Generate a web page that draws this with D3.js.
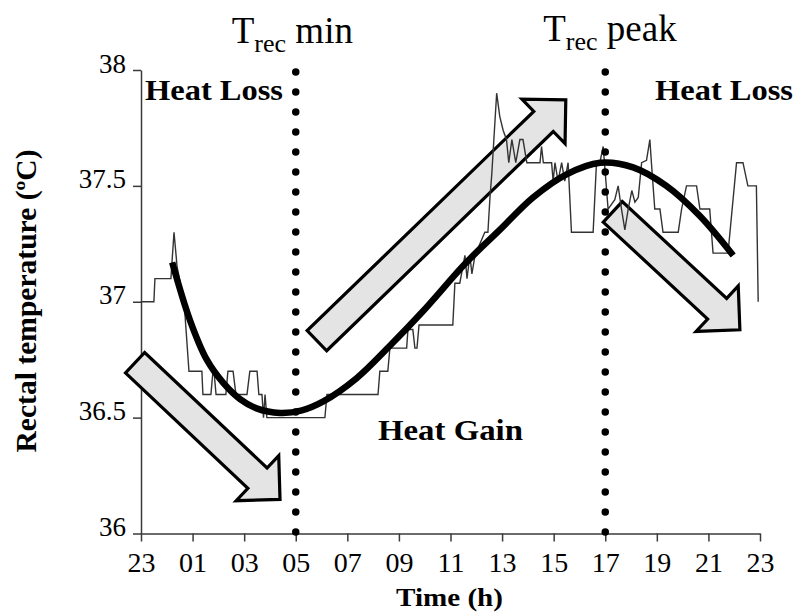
<!DOCTYPE html>
<html>
<head>
<meta charset="utf-8">
<script src="https://d3js.org/d3.v7.min.js"></script>
<style>
  body { margin: 0; background: #fff; }
  svg text { font-family: "Liberation Serif", "Times New Roman", serif; fill: #000; }
</style>
</head>
<body>
<div id="chart"></div>
<script>
// hours after 23:00
const xTickHours = [0, 2, 4, 6, 8, 10, 12, 14, 16, 18, 20, 22, 24];
const xTickLabels = ["23", "01", "03", "05", "07", "09", "11", "13", "15", "17", "19", "21", "23"];
const yTicks = [36, 36.5, 37, 37.5, 38];

// recorded rectal temperature
const rawHours = [0.00, 0.50, 0.54, 1.16, 1.28, 1.40, 1.67, 1.86, 2.36, 2.40, 2.71, 2.79, 2.83, 2.91, 3.29, 3.37, 3.57, 3.68,
  4.11, 4.22, 4.50, 4.57, 4.69, 4.75, 4.81, 4.88, 7.13, 7.21, 9.19, 9.26, 9.57, 9.65, 10.30, 10.35, 10.54, 10.62, 10.70,
  10.78, 12.09, 12.17, 12.36, 12.56, 12.64, 12.75, 12.83, 12.95, 13.33, 13.45, 13.53, 13.60, 13.79, 13.91, 14.04, 14.17,
  14.26, 14.38, 14.53, 14.69, 14.81, 14.96, 15.47, 15.53, 15.60, 15.92, 15.98, 16.05, 16.17, 16.31, 16.43, 16.56, 16.69,
  17.53, 17.66, 17.79, 17.92, 18.11, 18.37, 18.50, 18.63, 18.76, 18.89, 19.03, 19.15, 19.28, 19.41, 19.60, 19.73, 19.79,
  19.92, 20.12, 20.24, 20.83, 20.96, 21.15, 21.54, 21.67, 22.05, 22.18, 22.76, 23.09, 23.34, 23.53, 23.86, 23.93];
const rawTemps = [37.0, 37.0, 37.1, 37.1, 37.3, 37.15, 37.0, 36.7, 36.7, 36.6, 36.6, 36.7, 36.7, 36.6, 36.6, 36.7, 36.7, 36.6,
  36.6, 36.7, 36.7, 36.6, 36.6, 36.5, 36.6, 36.5, 36.5, 36.6, 36.6, 36.7, 36.7, 36.8, 36.8, 36.88, 36.88, 36.8, 36.8,
  36.9, 36.9, 37.08, 37.08, 37.2, 37.1, 37.2, 37.12, 37.2, 37.3, 37.3, 37.45, 37.55, 37.9, 37.8, 37.74, 37.7,
  37.6, 37.7, 37.6, 37.7, 37.7, 37.6, 37.6, 37.67, 37.6, 37.6, 37.52, 37.6, 37.52, 37.6, 37.52, 37.6, 37.3,
  37.3, 37.6, 37.6, 37.67, 37.4, 37.44, 37.5, 37.4, 37.31, 37.4, 37.48, 37.43, 37.45, 37.6, 37.61, 37.7, 37.6,
  37.4, 37.4, 37.3, 37.3, 37.4, 37.5, 37.5, 37.4, 37.4, 37.21, 37.21, 37.6, 37.6, 37.5, 37.5, 37.0];

// fitted rhythm
const fitHours = [1.21, 1.9, 2.55, 3.19, 3.84, 4.48, 5.39, 6.2, 7.07, 8.36, 9.65, 10.94, 12.62, 13.91, 15.2, 16.5, 17.8, 19.08, 20.37, 21.67, 22.96];
const fitTemps = [37.17, 36.92, 36.75, 36.65, 36.58, 36.54, 36.52, 36.53, 36.57, 36.67, 36.81, 36.96, 37.17, 37.31, 37.45, 37.55, 37.6, 37.58, 37.5, 37.37, 37.2];

// Trec min / peak markers
const markerHours = [6, 18];
const markerNames = ["min", "peak"];

// block arrows: tail and tip as [hour, temp]
const arrowTails = [[-0.23, 36.737], [6.82, 36.832], [18.29, 37.388]];
const arrowTips = [[5.39, 36.147], [16.47, 37.871], [23.22, 36.879]];

const width = 797, height = 615;

const svg = d3.select("#chart").append("svg")
  .attr("width", width)
  .attr("height", height);

const x = d3.scaleLinear().domain([0, 24]).range([141, 760]);
const y = d3.scaleLinear().domain([36, 38]).range([533.5, 70]);

// axes
const xAxis = svg.append("g")
  .attr("transform", `translate(0,${y(36)})`)
  .call(d3.axisBottom(x).tickValues(xTickHours).tickFormat((d, i) => xTickLabels[i]).tickSize(8).tickSizeOuter(0));
xAxis.selectAll("text")
  .attr("y", 0).attr("dy", 38.5)
  .style("font-size", "28px");

const yAxis = svg.append("g")
  .attr("transform", `translate(${x(0)},0)`)
  .call(d3.axisLeft(y).tickValues(yTicks).tickFormat(d3.format("")).tickSize(8).tickSizeOuter(0));
yAxis.selectAll("text")
  .attr("x", -15).attr("dy", 2)
  .style("font-size", "27px");

svg.selectAll(".domain, .tick line")
  .attr("stroke", "#3a3a3a")
  .attr("stroke-width", 1.5);

// arrows
function arrowPath(t0, t1, shaft, head) {
  const [x0, y0] = [x(t0[0]), y(t0[1])];
  const [x1, y1] = [x(t1[0]), y(t1[1])];
  const len = Math.hypot(x1 - x0, y1 - y0);
  const ux = (x1 - x0) / len, uy = (y1 - y0) / len;
  const nx = -uy, ny = ux;
  const hl = head / 2;
  const bx = x1 - ux * hl, by = y1 - uy * hl;
  const pts = [
    [x0 + nx * shaft / 2, y0 + ny * shaft / 2],
    [bx + nx * shaft / 2, by + ny * shaft / 2],
    [bx + nx * head / 2, by + ny * head / 2],
    [x1, y1],
    [bx - nx * head / 2, by - ny * head / 2],
    [bx - nx * shaft / 2, by - ny * shaft / 2],
    [x0 - nx * shaft / 2, y0 - ny * shaft / 2]
  ];
  return "M" + pts.map(p => p.join(",")).join("L") + "Z";
}

svg.append("g")
  .selectAll("path")
  .data(arrowTails)
  .join("path")
  .attr("d", (d, i) => arrowPath(d, arrowTips[i], 28, 62))
  .attr("fill", "#e4e4e4")
  .attr("stroke", "#000")
  .attr("stroke-width", 3.2)
  .attr("stroke-linejoin", "miter");

// raw trace
const raw = rawHours.map((h, i) => [h, rawTemps[i]]);
svg.append("path")
  .datum(raw)
  .attr("fill", "none")
  .attr("stroke", "#333")
  .attr("stroke-width", 1.4)
  .attr("d", d3.line().x(d => x(d[0])).y(d => y(d[1])));

// fitted curve
const fit = fitHours.map((h, i) => [h, fitTemps[i]]);
svg.append("path")
  .datum(fit)
  .attr("fill", "none")
  .attr("stroke", "#000")
  .attr("stroke-width", 6.5)
  .attr("d", d3.line().curve(d3.curveCatmullRom).x(d => x(d[0])).y(d => y(d[1])));

// dotted markers
svg.append("g")
  .selectAll("line")
  .data(markerHours)
  .join("line")
  .attr("x1", d => x(d)).attr("x2", d => x(d))
  .attr("y1", y(38) + 2).attr("y2", y(36))
  .attr("stroke", "#000")
  .attr("stroke-width", 7.5)
  .attr("stroke-linecap", "round")
  .attr("stroke-dasharray", "0,20");

const markerLabels = svg.append("g")
  .selectAll("text")
  .data(markerHours)
  .join("text")
  .attr("x", (d, i) => x(d) + (i === 0 ? -64 : -62))
  .attr("y", (d, i) => i === 0 ? 43 : 41)
  .style("font-size", "37px");
markerLabels.append("tspan").text("T");
markerLabels.append("tspan").attr("dy", 9).style("font-size", "26px").text("rec");
markerLabels.append("tspan").attr("dy", -9).text((d, i) => "\u00a0" + markerNames[i]);

// phase labels
const phaseLabels = [
  { text: "Heat Loss", x: 145, y: 100, len: 138 },
  { text: "Heat Loss", x: 655, y: 100, len: 138 },
  { text: "Heat Gain", x: 378, y: 440, len: 145 }
];
svg.append("g")
  .selectAll("text")
  .data(phaseLabels)
  .join("text")
  .attr("x", d => d.x)
  .attr("y", d => d.y)
  .attr("textLength", d => d.len)
  .attr("lengthAdjust", "spacingAndGlyphs")
  .style("font-size", "29px")
  .style("font-weight", "bold")
  .text(d => d.text);

// axis titles
svg.append("text")
  .attr("x", 396).attr("y", 606)
  .attr("textLength", 107)
  .attr("lengthAdjust", "spacingAndGlyphs")
  .style("font-size", "26px")
  .style("font-weight", "bold")
  .text("Time (h)");

svg.append("text")
  .attr("transform", "translate(36,301) rotate(-90)")
  .attr("text-anchor", "middle")
  .attr("textLength", 303)
  .attr("lengthAdjust", "spacingAndGlyphs")
  .style("font-size", "29px")
  .style("font-weight", "bold")
  .text("Rectal temperature (\u00baC)");
</script>
</body>
</html>
